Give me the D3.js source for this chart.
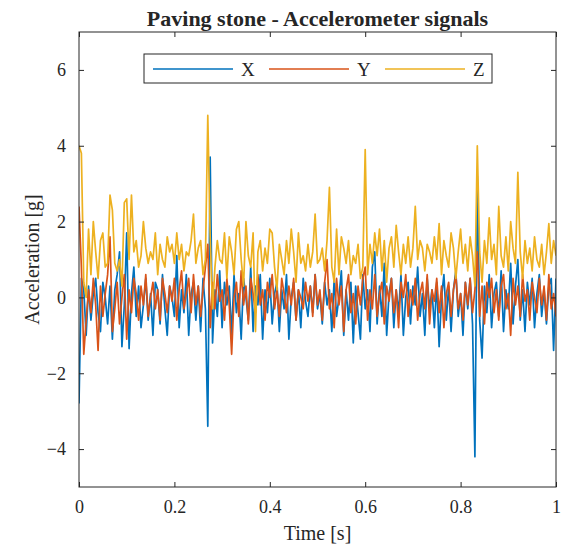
<!DOCTYPE html>
<html>
<head>
<meta charset="utf-8">
<script src="https://cdn.jsdelivr.net/npm/d3@7"></script>
<style>
  body { margin: 0; background: #fff; }
  text { font-family: "Liberation Serif", "DejaVu Serif", serif; fill: #262626; }
</style>
</head>
<body>
<div id="chart"></div>
<script>
// Paving stone - accelerometer signals (step 0.005 s)

const dt = 0.005;

const accX = [-2.8,0.5,0.2,-1.0,0.3,-0.6,0.1,0.5,-0.4,-0.9,0.4,0.0,-0.7,0.3,-1.1,0.2,0.6,1.2,-1.3,-0.2,
  1.7,-1.35,0.1,0.8,-0.5,0.3,-0.8,-0.2,0.5,-0.6,0.1,-1.0,0.4,0.2,-0.7,0.6,-0.3,-1.0,0.3,0.0,
  -0.5,1.1,-0.8,0.2,-0.4,0.6,-1.0,0.1,0.4,-0.6,0.3,-0.9,0.5,-0.3,-3.4,3.7,-1.2,0.2,-0.5,0.7,
  -0.8,0.4,-0.2,0.3,-1.0,0.6,-0.4,0.1,-1.1,0.5,0.0,-0.6,0.8,-0.9,0.3,-0.2,0.6,-1.1,0.2,-0.4,
  0.5,-0.7,0.1,0.4,-0.9,0.2,-0.3,0.6,-1.1,0.0,0.4,-0.6,0.2,-0.8,0.5,-0.1,-0.5,0.3,-0.4,0.6,
  -0.3,0.1,-0.7,0.4,-0.2,0.2,-0.9,0.5,-0.5,0.0,0.7,-1.0,0.2,-0.6,0.4,-1.2,0.3,-0.4,-1.1,0.6,
  -0.3,0.2,-0.9,0.8,1.2,-0.7,0.3,-0.5,0.9,-1.0,0.1,0.5,-0.8,0.2,-0.4,0.6,-1.0,0.0,0.4,-0.7,
  0.3,-0.2,0.8,-0.5,0.1,-1.0,0.5,-0.3,0.2,-0.8,0.4,-1.3,0.0,0.6,-0.6,0.3,-0.9,0.2,0.7,-0.5,
  0.1,-1.0,0.4,-0.3,0.5,-0.7,-4.2,3.2,-0.6,-1.6,0.3,-0.4,0.6,-0.8,0.1,0.4,-0.5,0.7,-0.9,0.2,
  -0.3,0.9,-0.7,0.3,1.0,-0.6,0.2,-0.9,0.4,-0.2,0.5,-0.8,0.1,0.6,-0.5,0.2,-0.7,0.3,0.5,-1.4,0.5];

const accY = [2.4,0.8,-1.5,-0.6,0.2,-0.4,0.5,-0.2,-1.4,0.3,-0.5,0.1,0.6,1.6,-0.9,-0.3,0.4,-0.7,0.0,0.6,
  -1.1,0.2,-0.4,0.5,0.1,-0.6,0.3,-0.2,0.6,-0.5,0.0,0.4,-0.3,0.2,-0.6,0.5,0.1,-0.4,0.3,-0.1,
  0.5,-0.6,0.2,0.7,-0.3,0.1,0.5,-0.4,0.6,-0.2,0.3,-0.5,0.2,0.8,1.4,-0.8,0.4,-0.3,0.6,-0.1,
  0.2,-0.6,0.5,-0.2,-1.5,0.0,0.4,-0.5,0.7,-0.2,0.3,-0.7,0.5,0.1,-0.4,0.6,-0.2,0.2,-0.6,0.4,
  0.0,0.6,-0.3,0.2,-0.5,0.5,0.1,-0.4,0.3,-0.2,0.5,-0.6,0.2,0.0,-0.3,0.4,-0.1,0.3,-0.5,0.6,
  -0.2,0.2,-0.6,0.4,1.0,-0.3,0.1,-0.8,0.5,-0.2,0.3,-0.9,0.2,0.6,-0.4,0.1,-0.7,0.3,-0.2,0.5,
  0.8,-0.6,0.2,-0.3,0.6,-0.5,0.1,0.4,-0.7,0.3,-0.1,0.5,-0.4,0.2,-0.8,0.4,0.0,0.6,-0.5,0.2,
  -0.2,0.5,-0.6,0.1,0.4,-0.3,0.6,-0.7,0.2,-0.1,0.5,-0.4,0.3,-0.8,0.1,0.4,-0.5,0.2,0.6,-0.3,
  0.1,-0.6,0.4,-0.2,0.5,-0.4,0.2,1.2,-0.5,0.3,-0.7,0.4,0.0,0.5,-0.4,0.2,-0.6,0.3,0.6,-0.3,
  0.1,-1.0,0.5,-0.2,0.3,-0.5,0.6,-0.1,0.2,-0.6,0.4,0.0,-0.4,0.5,-0.2,0.3,-0.6,0.6,-0.3,0.1,-0.5];

const accZ = [4.0,3.8,0.4,0.0,1.8,0.6,2.0,1.2,0.5,1.5,1.7,0.8,0.9,2.7,2.3,0.9,0.7,1.0,0.3,2.5,
  2.6,1.0,2.7,1.2,1.5,0.8,1.1,2.0,1.3,0.9,1.2,1.0,1.7,0.6,1.4,1.0,0.8,1.6,1.2,1.4,
  0.9,1.7,1.0,1.4,0.7,1.2,1.1,1.5,2.2,0.9,1.3,1.5,0.6,1.0,4.8,1.6,-0.3,0.8,1.5,1.0,
  0.9,1.7,0.5,1.6,1.2,0.6,1.8,2.0,1.0,0.3,2.0,1.1,0.8,1.7,-0.9,1.2,1.5,0.7,1.3,0.9,
  1.8,1.7,0.8,0.2,1.4,1.0,0.6,1.5,0.9,1.8,1.2,0.4,1.7,0.9,1.1,0.7,1.4,0.8,1.2,2.2,
  0.9,1.0,1.3,0.7,1.5,2.9,0.8,0.4,1.8,0.6,1.6,1.3,0.9,1.5,0.6,1.1,0.9,1.4,0.5,0.8,
  3.9,0.6,1.4,0.9,1.7,1.1,1.8,0.7,1.5,0.4,1.3,1.6,0.8,1.9,1.2,0.6,1.4,0.9,1.6,0.8,
  1.3,2.4,1.0,1.5,1.3,0.7,1.4,1.2,0.9,1.6,1.0,1.95,0.6,1.5,1.1,0.8,1.7,1.3,0.5,1.2,
  1.8,0.9,1.4,0.7,1.6,1.1,0.3,4.0,1.2,0.4,1.5,0.9,2.1,1.0,1.4,0.6,2.4,1.1,0.8,1.6,
  0.7,2.0,1.3,0.9,3.3,1.2,0.5,1.5,0.9,1.3,0.7,1.6,1.0,0.8,1.4,0.6,1.2,1.95,0.9,1.5,1.1];

const seriesNames = ["X", "Y", "Z"];
const seriesColors = ["#0072BD", "#D95319", "#EDB120"];
const xTicks = [0, 0.2, 0.4, 0.6, 0.8, 1];
const yTicks = [-4, -2, 0, 2, 4, 6];

const width = 563, height = 547;
const margin = { left: 79, right: 7, top: 32, bottom: 60 };

const svg = d3.select("#chart").append("svg")
  .attr("width", width)
  .attr("height", height);

const x = d3.scaleLinear().domain([0, 1]).range([margin.left, width - margin.right]);
const y = d3.scaleLinear().domain([-5, 7]).range([height - margin.bottom, margin.top]);

// clip the traces to the axes box
svg.append("clipPath").attr("id", "clip")
  .append("rect")
  .attr("x", x(0)).attr("y", y(7))
  .attr("width", x(1) - x(0)).attr("height", y(-5) - y(7));

const line = d3.line()
  .x((d, i) => x(i * dt))
  .y(d => y(d));

const plot = svg.append("g").attr("clip-path", "url(#clip)");
[accX, accY, accZ].forEach((s, k) => {
  plot.append("path")
    .datum(s)
    .attr("fill", "none")
    .attr("stroke", seriesColors[k])
    .attr("stroke-width", 1.7)
    .attr("stroke-linejoin", "round")
    .attr("d", line);
});

// axes with inward ticks on all four sides
const fmt = d => d < 0 ? "\u2212" + Math.abs(d) : String(d);
const axisStyle = g => {
  g.attr("font-family", null).attr("font-size", null);
  g.select(".domain").remove();
  g.selectAll(".tick line").attr("stroke", "#262626");
  g.selectAll(".tick text").style("font-size", "18px").attr("fill", "#262626");
};

svg.append("g")
  .attr("transform", "translate(0," + y(-5) + ")")
  .call(d3.axisBottom(x).tickValues(xTicks).tickFormat(fmt).tickSizeInner(-5).tickPadding(13))
  .call(axisStyle);
svg.append("g")
  .attr("transform", "translate(0," + y(7) + ")")
  .call(d3.axisTop(x).tickValues(xTicks).tickFormat("").tickSizeInner(-5))
  .call(axisStyle);
svg.append("g")
  .attr("transform", "translate(" + x(0) + ",0)")
  .call(d3.axisLeft(y).tickValues(yTicks).tickFormat(fmt).tickSizeInner(-5).tickPadding(13))
  .call(axisStyle);
svg.append("g")
  .attr("transform", "translate(" + x(1) + ",0)")
  .call(d3.axisRight(y).tickValues(yTicks).tickFormat("").tickSizeInner(-5))
  .call(axisStyle);

svg.append("rect")
  .attr("x", x(0)).attr("y", y(7))
  .attr("width", x(1) - x(0)).attr("height", y(-5) - y(7))
  .attr("fill", "none")
  .attr("stroke", "#262626")
  .attr("stroke-width", 1);

// title and axis labels
svg.append("text")
  .attr("x", (x(0) + x(1)) / 2)
  .attr("y", 26)
  .attr("text-anchor", "middle")
  .style("font-size", "22px")
  .style("font-weight", "bold")
  .text("Paving stone - Accelerometer signals");

svg.append("text")
  .attr("x", (x(0) + x(1)) / 2)
  .attr("y", 540)
  .attr("text-anchor", "middle")
  .style("font-size", "20px")
  .text("Time [s]");

svg.append("text")
  .attr("transform", "translate(39," + ((y(-5) + y(7)) / 2) + ") rotate(-90)")
  .attr("text-anchor", "middle")
  .style("font-size", "20px")
  .text("Acceleration [g]");

// legend
const legend = svg.append("g").attr("transform", "translate(144,54)");
legend.append("rect")
  .attr("width", 348).attr("height", 29)
  .attr("fill", "#fff")
  .attr("stroke", "#262626")
  .attr("stroke-width", 1);

const item = legend.selectAll(".item")
  .data(seriesNames)
  .enter()
  .append("g")
  .attr("class", "item")
  .attr("transform", (d, i) => "translate(" + (9 + i * 116) + ",15)");

item.append("line")
  .attr("x1", 0).attr("x2", 80)
  .attr("stroke", (d, i) => seriesColors[i])
  .attr("stroke-width", 1.4);

item.append("text")
  .attr("x", 88)
  .attr("dy", "0.35em")
  .style("font-size", "19px")
  .text(d => d);
</script>
</body>
</html>
